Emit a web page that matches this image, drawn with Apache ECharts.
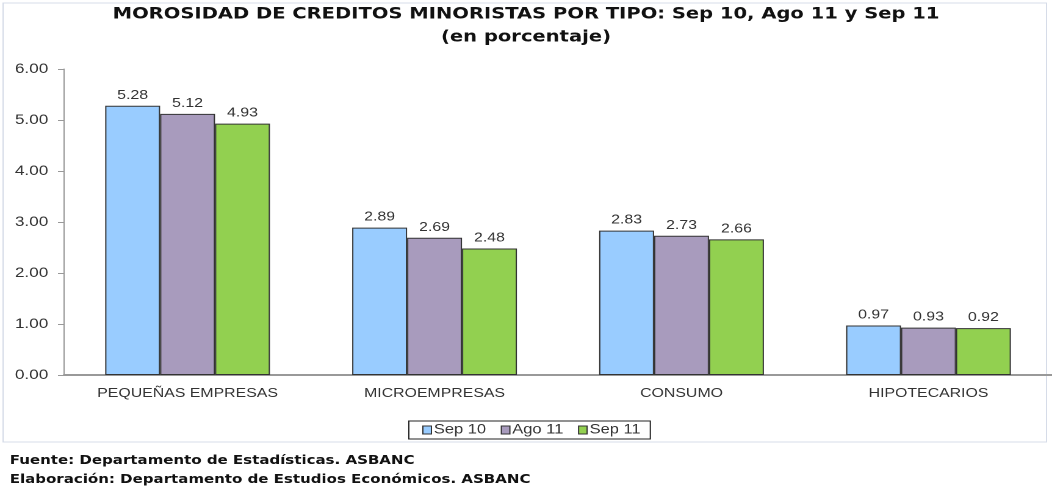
<!DOCTYPE html>
<html lang="en">
<head>
    <meta charset="UTF-8">
    <title>Morosidad</title>
    <style>
        html, body { margin: 0; padding: 0; background: #fff; overflow: hidden; }
        /* the reference is a horizontally stretched picture: draw narrower, then stretch */
        #main {
            width: 862px;
            height: 488px;
            transform: scaleX(1.2204);
            transform-origin: 0 0;
        }
    </style>
</head>
<body>
<div id="main"></div>
<script src="https://cdn.jsdelivr.net/npm/echarts@6/dist/echarts.min.js"></script>
<script>
    const categories = ['PEQUEÑAS EMPRESAS', 'MICROEMPRESAS', 'CONSUMO', 'HIPOTECARIOS'];
    const sep10 = [5.28, 2.89, 2.83, 0.97];
    const ago11 = [5.12, 2.69, 2.73, 0.93];
    const sep11 = [4.93, 2.48, 2.66, 0.92];
    const seriesNames = ['Sep 10', 'Ago 11', 'Sep 11'];
    const colors = ['#99ccff', '#a89bbd', '#92d050'];

    const myChart = echarts.init(document.getElementById('main'), null, { devicePixelRatio: 2 });

    const mkSeries = (name, data, color) => ({
        name: name,
        type: 'bar',
        data: data,
        barWidth: 45,
        barGap: '0%',
        itemStyle: { color: color, borderColor: '#333', borderWidth: 1 },
        label: {
            show: true,
            position: 'top',
            distance: 4,
            formatter: p => p.value.toFixed(2),
            color: '#333',
            fontFamily: 'Liberation Sans',
            fontSize: 13
        }
    });

    myChart.setOption({
        animation: false,
        title: {
            text: 'MOROSIDAD DE CREDITOS MINORISTAS POR TIPO: Sep 10, Ago 11 y Sep 11\n(en porcentaje)',
            left: 'center',
            top: -2,
            textStyle: {
                fontFamily: 'DejaVu Sans',
                fontWeight: 'bold',
                fontSize: 16,
                lineHeight: 23,
                color: '#111'
            }
        },
        legend: {
            data: seriesNames,
            left: 335,
            top: 421,
            itemWidth: 7,
            itemHeight: 8,
            itemGap: 12,
            padding: [2, 8, 2, 11],
            borderColor: '#222',
            borderWidth: 1,
            borderRadius: 0,
            icon: 'rect',
            textStyle: { fontFamily: 'Liberation Sans', fontSize: 13.5, color: '#333', padding: [0, 0, 0, -3] },
            itemStyle: { borderColor: '#333', borderWidth: 1 }
        },
        grid: { left: 52.5, right: 0, top: 69, bottom: 113 },
        xAxis: {
            type: 'category',
            data: categories,
            axisLine: { lineStyle: { color: '#999', width: 2 } },
            axisTick: { show: false },
            axisLabel: { fontFamily: 'Liberation Sans', fontSize: 13, color: '#333', margin: 12 }
        },
        yAxis: {
            type: 'value',
            min: 0,
            max: 6,
            interval: 1,
            axisLine: { show: true, lineStyle: { color: '#999', width: 1 } },
            axisTick: { show: true, length: 5, lineStyle: { color: '#999' } },
            splitLine: { show: false },
            axisLabel: {
                formatter: v => v.toFixed(2),
                fontFamily: 'Liberation Sans',
                fontSize: 14,
                color: '#333',
                margin: 13
            }
        },
        graphic: [
            {
                type: 'rect',
                shape: { x: 2.5, y: 3, width: 855, height: 439 },
                style: { fill: 'none', stroke: '#d6dce8', lineWidth: 1 },
                silent: true
            },
            {
                type: 'text',
                left: 8,
                top: 455,
                style: {
                    text: 'Fuente: Departamento de Estadísticas. ASBANC',
                    fontFamily: 'DejaVu Sans',
                    fontWeight: 'bold',
                    fontSize: 12.3,
                    fill: '#111'
                }
            },
            {
                type: 'text',
                left: 8,
                top: 474,
                style: {
                    text: 'Elaboración: Departamento de Estudios Económicos. ASBANC',
                    fontFamily: 'DejaVu Sans',
                    fontWeight: 'bold',
                    fontSize: 12.3,
                    fill: '#111'
                }
            }
        ],
        series: [
            mkSeries(seriesNames[0], sep10, colors[0]),
            mkSeries(seriesNames[1], ago11, colors[1]),
            mkSeries(seriesNames[2], sep11, colors[2])
        ]
    });
</script>
</body>
</html>
